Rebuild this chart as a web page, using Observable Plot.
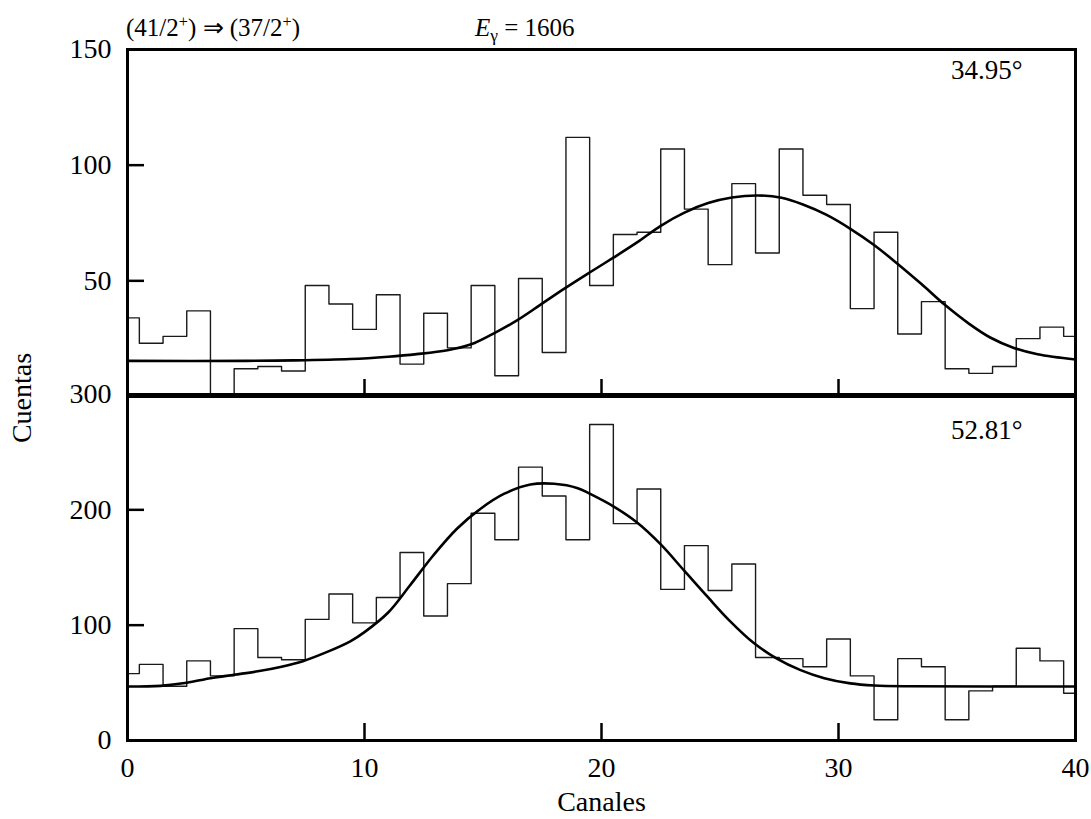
<!DOCTYPE html>
<html><head><meta charset="utf-8">
<script src="https://cdn.jsdelivr.net/npm/d3@7"></script>
<script src="https://cdn.jsdelivr.net/npm/@observablehq/plot@0.6"></script>
<style>
body{margin:0;background:#fff;}
#wrap{position:relative;width:1091px;height:819px;font-family:"Liberation Serif",serif;color:#000;}
#wrap svg{position:absolute;left:0;}
.lbl{position:absolute;white-space:nowrap;line-height:1;}
.lbl sup{font-size:65%;vertical-align:0.55em;line-height:0;}
.lbl sub{font-size:70%;vertical-align:-0.3em;line-height:0;}
</style></head><body>
<div id="wrap">
  <div class="lbl" style="left:126px;top:15px;font-size:25px;">(41/2<sup>+</sup>) ⇒ (37/2<sup>+</sup>)</div>
  <div class="lbl" style="left:475px;top:15px;font-size:25px;"><i>E</i><sub>γ</sub> = 1606</div>
  <div class="lbl" style="left:22px;top:398px;font-size:28px;transform:translate(-50%,-50%) rotate(-90deg);">Cuentas</div>
</div>
<script>
// Channels (x)
const channels = d3.range(0, 41);
// Top panel (34.95°) histogram counts per channel
const topCounts = [34, 23, 26, 37, 1, 12, 13, 11, 48, 40, 29, 44, 14, 36, 21, 48, 9, 51, 19, 112, 48, 70, 71, 107, 81, 57, 92, 62, 107, 87, 83, 38, 71, 27, 41, 12, 10, 13, 25, 30, 26];
// Bottom panel (52.81°) histogram counts per channel
const bottomCounts = [58, 66, 47, 69, 56, 97, 72, 70, 105, 127, 102, 124, 163, 108, 136, 197, 174, 237, 212, 174, 274, 188, 218, 131, 169, 130, 153, 72, 71, 64, 88, 56, 18, 71, 64, 18, 43, 47, 80, 69, 41];
// Fit curves
const topFitX = [0, 5, 7, 9.4, 11, 12.2, 13.5, 14.5, 15.4, 16.4, 17.4, 18.4, 19.5, 20.5, 21.5, 22.5, 23.5, 24.5, 25.5, 26.6, 27.6, 28.5, 29.5, 30.5, 31.5, 32.5, 33.5, 34.5, 35.5, 36.4, 37.4, 38.4, 40];
const topFitY = [15.4, 15.4, 15.6, 16.2, 17.2, 18.3, 20.0, 22.6, 27.0, 32.7, 39.5, 46.4, 53.6, 60.0, 66.6, 73.8, 79.5, 83.6, 86.0, 86.9, 85.9, 83.0, 78.5, 72.5, 65.5, 57.3, 48.6, 39.5, 31.5, 25.5, 21.0, 18.3, 16.0];
const botFitX = [0, 1.4, 2.5, 3.5, 4.5, 5.5, 6.5, 7.4, 8.4, 9.4, 10, 11, 11.9, 12.9, 13.9, 14.9, 15.9, 17, 18, 19, 19.5, 20.5, 21.5, 22.5, 23.5, 24.5, 25.4, 26.4, 27.4, 28.4, 29.4, 30.5, 31.5, 33, 40];
const botFitY = [46.8, 47.4, 50, 54, 57, 60, 64, 68.8, 76.6, 86, 94, 111, 134, 160.4, 183.6, 201, 214, 222, 222.6, 218.8, 214, 203, 189, 170, 147, 124, 104, 85, 71, 61, 54, 49.5, 47.7, 47, 46.8];
// Tick values
const xTicks = [0, 10, 20, 30, 40];
const xInnerTicks = [10, 20, 30];
const topYTicks = [50, 100, 150];
const topYInner = [50, 100];
const botYTicks = [0, 100, 200, 300];
const botYInner = [100, 200];
const angles = ["34.95°", "52.81°"];

const topHist = channels.map((c, i) => ({c, n: topCounts[i]}));
const botHist = channels.map((c, i) => ({c, n: bottomCounts[i]}));
const topFit = topFitX.map((x, i) => ({x, y: topFitY[i]}));
const botFit = botFitX.map((x, i) => ({x, y: botFitY[i]}));

const common = {
  width: 1091,
  marginLeft: 127,
  marginRight: 16,
  style: {fontFamily: "'Liberation Serif', serif", fontSize: "28px", overflow: "visible", background: "transparent", color: "#000"},
  x: {domain: [0, 40]}
};

const topPlot = Plot.plot({
  ...common,
  height: 398,
  marginTop: 49,
  marginBottom: 2,
  y: {domain: [0, 150]},
  marks: [
    Plot.line(topHist, {x: "c", y: "n", curve: "step", stroke: "#1a1a1a", strokeWidth: 1.4}),
    Plot.line(topFit, {x: "x", y: "y", curve: "catmull-rom", stroke: "#000", strokeWidth: 2.6}),
    Plot.axisY({ticks: topYTicks, tickSize: 0, tickPadding: 16, label: null, fontSize: 28}),
    Plot.axisY({ticks: topYInner, tickSize: 17, dx: 17, tickFormat: () => "", label: null, strokeWidth: 2.5}),
    Plot.axisX({ticks: xInnerTicks, tickSize: 17, dy: -17, tickFormat: () => "", label: null, strokeWidth: 2.5}),
    Plot.text([angles[0]], {frameAnchor: "top-right", textAnchor: "end", lineAnchor: "top", dx: -53, dy: 10, fontSize: 27}),
    Plot.frame({stroke: "#000", strokeWidth: 3})
  ]
});
topPlot.style.top = "0px";

const botPlot = Plot.plot({
  ...common,
  height: 427,
  marginTop: 2,
  marginBottom: 79,
  y: {domain: [0, 300]},
  marks: [
    Plot.line(botHist, {x: "c", y: "n", curve: "step", stroke: "#1a1a1a", strokeWidth: 1.4}),
    Plot.line(botFit, {x: "x", y: "y", curve: "catmull-rom", stroke: "#000", strokeWidth: 2.6}),
    Plot.axisY({ticks: botYTicks, tickSize: 0, tickPadding: 16, label: null, fontSize: 28}),
    Plot.axisY({ticks: botYInner, tickSize: 17, dx: 17, tickFormat: () => "", label: null, strokeWidth: 2.5}),
    Plot.axisX({ticks: xInnerTicks, tickSize: 17, dy: -17, tickFormat: () => "", label: null, strokeWidth: 2.5}),
    Plot.axisX({ticks: xTicks, tickSize: 0, tickPadding: 17, label: null, fontSize: 28}),
    Plot.text(["Canales"], {frameAnchor: "bottom", lineAnchor: "top", dy: 51, fontSize: 28}),
    Plot.text([angles[1]], {frameAnchor: "top-right", textAnchor: "end", lineAnchor: "top", dx: -53, dy: 25, fontSize: 27}),
    Plot.frame({stroke: "#000", strokeWidth: 3})
  ]
});
botPlot.style.top = "392px";

const wrap = document.getElementById("wrap");
wrap.appendChild(topPlot);
wrap.appendChild(botPlot);
</script>
</body></html>
